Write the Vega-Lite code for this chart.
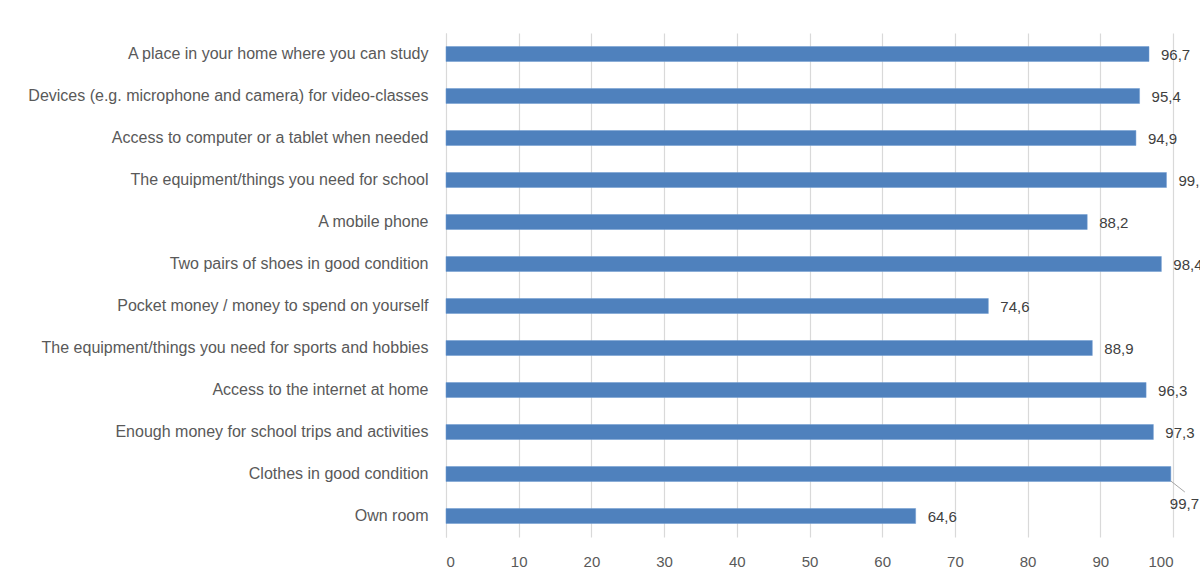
{
  "$schema": "https://vega.github.io/schema/vega-lite/v6.json",
  "width": 727,
  "height": 504,
  "autosize": {"type": "none"},
  "padding": {"left": 446, "top": 33, "right": 27, "bottom": 42},
  "background": "white",
  "config": {
    "locale": {"number": {"decimal": ",", "thousands": ".", "grouping": [3], "currency": ["", "€"]}},
    "view": {"stroke": null},
    "font": "Liberation Sans"
  },
  "data": {
    "values": [
      {"item": "A place in your home where you can study", "value": 96.7},
      {"item": "Devices (e.g. microphone and camera) for video-classes", "value": 95.4},
      {"item": "Access to computer or a tablet when needed", "value": 94.9},
      {"item": "The equipment/things you need for school", "value": 99.1},
      {"item": "A mobile phone", "value": 88.2},
      {"item": "Two pairs of shoes in good condition", "value": 98.4},
      {"item": "Pocket money / money to spend on yourself", "value": 74.6},
      {"item": "The equipment/things you need for sports and hobbies", "value": 88.9},
      {"item": "Access to the internet at home", "value": 96.3},
      {"item": "Enough money for school trips and activities", "value": 97.3},
      {"item": "Clothes in good condition", "value": 99.7},
      {"item": "Own room", "value": 64.6}
    ]
  },
  "encoding": {
    "y": {
      "field": "item", "type": "nominal", "sort": null,
      "scale": {"paddingInner": 0, "paddingOuter": 0},
      "axis": {
        "title": null, "ticks": false, "labelPadding": 18, "labelLimit": 500,
        "labelFontSize": 16, "labelColor": "#595959", "labelFont": "Liberation Sans",
        "domainColor": "#d9d9d9", "domainWidth": 1
      }
    }
  },
  "layer": [
    {
      "mark": {"type": "bar", "size": 15, "color": "#4F81BD", "stroke": "#6f9bd0", "strokeWidth": 0.5},
      "encoding": {
        "x": {
          "field": "value", "type": "quantitative",
          "scale": {"domain": [0, 100], "nice": false},
          "axis": {
            "title": null, "values": [0, 10, 20, 30, 40, 50, 60, 70, 80, 90, 100],
            "domain": false, "ticks": false, "labelPadding": 17, "labelFontSize": 15,
            "labelColor": "#595959", "labelFont": "Liberation Sans",
            "grid": true, "gridColor": "#d9d9d9", "gridWidth": 1.2, "format": "d"
          }
        }
      }
    },
    {
      "transform": [{"filter": "datum.item !== 'Clothes in good condition'"}],
      "mark": {"type": "text", "align": "left", "baseline": "middle", "dx": 12, "dy": 1, "fontSize": 15, "color": "#404040", "font": "Liberation Sans"},
      "encoding": {
        "x": {"field": "value", "type": "quantitative"},
        "text": {"field": "value", "type": "quantitative", "format": ".1f"}
      }
    },
    {
      "transform": [{"filter": "datum.item === 'Clothes in good condition'"}],
      "mark": {"type": "text", "align": "left", "baseline": "middle", "dx": -1, "dy": 30, "fontSize": 15, "color": "#404040", "font": "Liberation Sans"},
      "encoding": {
        "x": {"field": "value", "type": "quantitative"},
        "text": {"field": "value", "type": "quantitative", "format": ".1f"}
      }
    },
    {
      "transform": [{"filter": "datum.item === 'Clothes in good condition'"}],
      "mark": {"type": "point", "shape": "M0,0.7L1.4,1.8", "size": 400, "filled": false, "stroke": "#a6a6a6", "strokeWidth": 1, "opacity": 1},
      "encoding": {
        "x": {"field": "value", "type": "quantitative"}
      }
    }
  ]
}
